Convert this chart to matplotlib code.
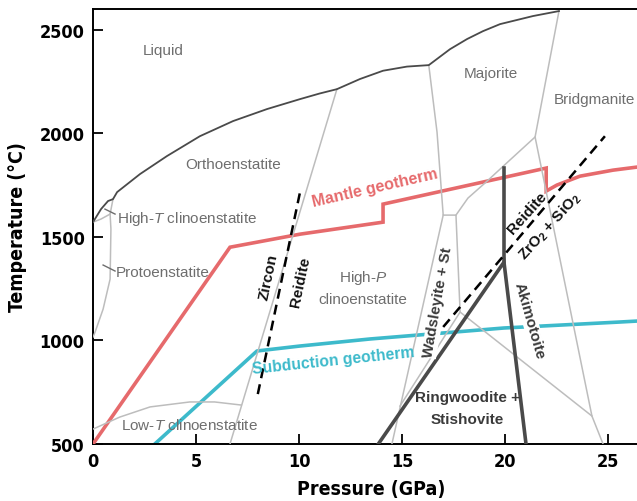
import numpy as np
import matplotlib
matplotlib.use('Agg')
import matplotlib.pyplot as plt
from matplotlib import font_manager

# fonts: use a condensed face for the axes text if one exists
fonts = font_manager.fontManager.ttflist
names = {f.name for f in fonts}
cond_kw = dict(fontfamily='Liberation Sans')
if 'Liberation Sans Narrow' in names:
    cond_kw = dict(fontfamily='Liberation Sans Narrow')
elif any(f.name == 'DejaVu Sans' and f.stretch == 'condensed' and f.weight in ('bold', 700) for f in fonts):
    cond_kw = dict(fontfamily='DejaVu Sans', fontstretch='condensed')
cond_scale = 1.0 if cond_kw['fontfamily'] != 'Liberation Sans' else 0.9

plt.rcParams['font.family'] = ['Liberation Sans', 'DejaVu Sans']
plt.rcParams['mathtext.fontset'] = 'custom'
plt.rcParams['mathtext.rm'] = 'Liberation Sans'
plt.rcParams['mathtext.it'] = 'Liberation Sans:italic'
plt.rcParams['mathtext.bf'] = 'Liberation Sans:bold'

# melting curve (solidus / liquidus)
melt_p = [0, 0.39, 0.73, 0.97, 1.17, 2.28, 3.59, 5.19, 6.8, 8.45, 10.05, 11.0, 11.84,
          12.96, 14.08, 15.24, 16.3, 17.33, 18.16, 18.93, 19.76, 21.36, 22.62]
melt_t = [1571, 1634, 1673, 1682, 1716, 1803, 1890, 1986, 2059, 2117, 2165, 2192, 2213,
          2262, 2302, 2322, 2329, 2406, 2455, 2493, 2527, 2566, 2590]

# grey phase boundaries
hight_p = [0, 0.39, 0.83, 0.97]
hight_t = [1571, 1586, 1610, 1682]
proto_p = [0.83, 0.87, 0.83, 0.49, 0.1, 0]
proto_t = [1610, 1538, 1296, 1151, 1040, 1016]
lowt_p = [0, 1.3, 2.77, 4.7, 5.9, 7.2]
lowt_t = [572, 630, 679, 703, 703, 688]
ortho_p = [11.84, 6.65]
ortho_t = [2213, 500]
maj_p = [16.3, 16.7, 17.0, 17.62, 17.82]
maj_t = [2329, 2006, 1605, 1605, 1137]
wad_p = [17.0, 14.51]
wad_t = [1605, 500]
wadst_p = [14.9, 17.82, 24.22]
wadst_t = [683, 1137, 635]
bdg_curve_p = [17.62, 18.2, 19.03, 20.24, 21.46]
bdg_curve_t = [1605, 1687, 1760, 1871, 1982]
bdg_p = [22.62, 21.46, 24.22, 24.76]
bdg_t = [2590, 1982, 635, 500]

# thick dark boundaries (Ringwoodite + Stishovite field)
rw_p = [13.85, 19.95, 21.02]
rw_t = [500, 1378, 500]
vert_p = [19.95, 19.95]
vert_t = [1378, 1832]

# dashed zircon boundaries
zr1_p = [8.0, 10.05]
zr1_t = [741, 1716]
zr2_p = [17.0, 24.85]
zr2_t = [1065, 1986]

# geotherms
mantle_p = [0, 6.65, 10.05, 14.08, 14.08, 22.0, 22.0, 22.52, 23.64, 25.24, 26.5, 27]
mantle_t = [500, 1450, 1513, 1571, 1658, 1832, 1721, 1750, 1793, 1822, 1838, 1841]
subd_p = [3.0, 7.96, 10.05, 13.45, 19.95, 25.6, 26.5, 27]
subd_t = [500, 949, 973, 1007, 1060, 1089, 1094, 1096]

xticks = [0, 5, 10, 15, 20, 25]
yticks = [500, 1000, 1500, 2000, 2500]

grey = '#bdbdbd'
dark = '#4a4a4a'
red = '#e66a6c'
cyan = '#3dbacb'
lab_grey = '#6e6e6e'
lab_dark = '#3a3a3a'

fig = plt.figure(figsize=(6.37, 5.02), dpi=100)
ax = fig.add_axes([93 / 637, 57 / 502, 27 * 20.6 / 637, 435 / 502])

for p, t in [(hight_p, hight_t), (proto_p, proto_t), (lowt_p, lowt_t), (ortho_p, ortho_t),
             (maj_p, maj_t), (wad_p, wad_t), (wadst_p, wadst_t),
             (bdg_curve_p, bdg_curve_t), (bdg_p, bdg_t)]:
    ax.plot(p, t, color=grey, lw=1.1, zorder=4)

ax.plot(melt_p, melt_t, color=dark, lw=1.3, zorder=4)
ax.plot(rw_p, rw_t, color=dark, lw=2.6, zorder=5, solid_joinstyle='miter')
ax.plot(vert_p, vert_t, color=dark, lw=2.6, zorder=5)
ax.plot(zr1_p, zr1_t, color='black', lw=1.8, ls=(0, (4, 2.5)), zorder=5)
ax.plot(zr2_p, zr2_t, color='black', lw=1.8, ls=(0, (4, 2.5)), zorder=5)
ax.plot(mantle_p, mantle_t, color=red, lw=2.6, zorder=3, solid_joinstyle='miter')
ax.plot(subd_p, subd_t, color=cyan, lw=2.6, zorder=2)

# leader lines
ax.plot([0.58, 1.07], [1634, 1610], color=lab_grey, lw=1, zorder=4)
ax.plot([0.49, 1.07], [1364, 1335], color=lab_grey, lw=1, zorder=4)

# field labels
kw = dict(color=lab_grey, fontsize=11, zorder=6)
ax.text(3.4, 2400, 'Liquid', ha='center', va='center', **kw)
ax.text(6.8, 1851, 'Orthoenstatite', ha='center', va='center', **kw)
ax.text(1.15, 1591, 'High-$T$ clinoenstatite', ha='left', va='center', **kw)
ax.text(1.12, 1330, 'Protoenstatite', ha='left', va='center', **kw)
ax.text(4.66, 592, 'Low-$T$ clinoenstatite', ha='center', va='center', **kw)
ax.text(13.1, 1306, 'High-$P$', ha='center', va='center', **kw)
ax.text(13.1, 1200, 'clinoenstatite', ha='center', va='center', **kw)
ax.text(19.3, 2290, 'Majorite', ha='center', va='center', **kw)
ax.text(22.35, 2165, 'Bridgmanite', ha='left', va='center', **kw)

bkw = dict(fontsize=11, fontweight='bold', ha='center', va='center', rotation_mode='anchor', zorder=6)
ax.text(13.69, 1740, 'Mantle geotherm', color=red, rotation=13, fontsize=11.5,
        fontweight='bold', ha='center', va='center', rotation_mode='anchor', zorder=6)
ax.text(11.65, 905, 'Subduction geotherm', color=cyan, rotation=6, fontsize=11.3,
        fontweight='bold', ha='center', va='center', rotation_mode='anchor', zorder=6)
ax.text(8.5, 1311, 'Zircon', color='#111111', rotation=78, **bkw)
ax.text(10.05, 1287, 'Reidite', color='#111111', rotation=78, **bkw)
ax.text(16.75, 1185, 'Wadsleyite + St', color=lab_dark, rotation=80,
        bbox=dict(facecolor='white', edgecolor='none', pad=0.5), **bkw)
ax.text(21.2, 1098, 'Akimotoite', color=lab_dark, rotation=-74,
        bbox=dict(facecolor='white', edgecolor='none', pad=0.5), **bkw)
ax.text(18.16, 727, 'Ringwoodite +', color=lab_dark, **bkw)
ax.text(18.16, 621, 'Stishovite', color=lab_dark, **bkw)
ax.text(21.07, 1620, 'Reidite', color='#111111', rotation=48, **bkw)
ax.text(22.18, 1552, r'ZrO$_\mathbf{2}$ + SiO$_\mathbf{2}$', color='#111111', rotation=48, **bkw)

ax.set_xlim(0, 27)
ax.set_ylim(500, 2600)
ax.set_xticks(xticks)
ax.set_yticks(yticks)
ax.tick_params(direction='in', length=7, width=1.3, pad=6)
for lab in ax.get_xticklabels() + ax.get_yticklabels():
    lab.set(**cond_kw)
    lab.set_fontweight('bold')
    lab.set_fontsize(13 * cond_scale)
for s in ['left', 'bottom', 'top']:
    ax.spines[s].set_linewidth(1.4)
ax.spines['right'].set_visible(False)

ax.set_xlabel('Pressure (GPa)', fontweight='bold', fontsize=14 * cond_scale, labelpad=6, **cond_kw)
ax.set_ylabel('Temperature (°C)', fontweight='bold', fontsize=14 * cond_scale, labelpad=9, **cond_kw)

fig.savefig('out.png', dpi=100)
